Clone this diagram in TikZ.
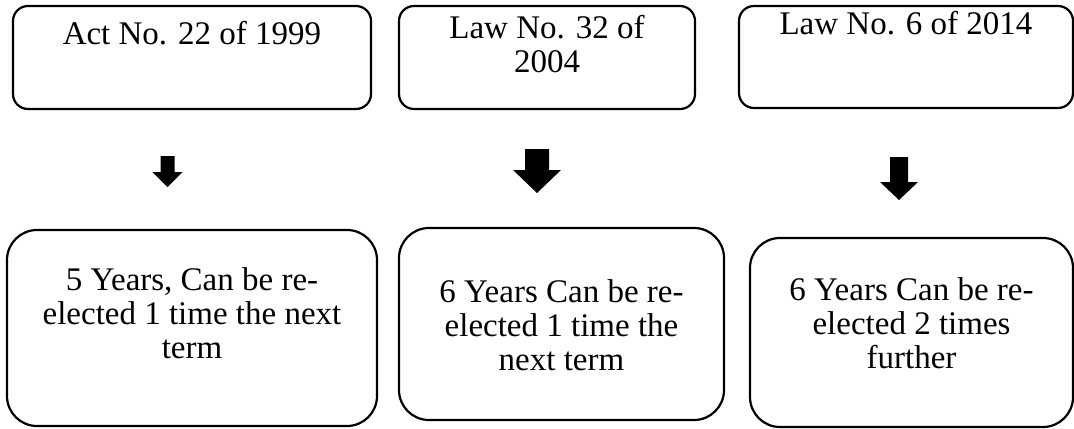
\documentclass[tikz,border=0pt]{standalone}
\usepackage{fontspec}
\setmainfont{Liberation Serif}
\usetikzlibrary{positioning}

\begin{document}
\begin{tikzpicture}[x=0.5pt, y=-0.5pt]
  \tikzstyle{every node}=[font=\fontsize{16.5}{17}\selectfont]
  \tikzstyle{topbox}=[draw, line width=1.1pt, rounded corners=7.5pt, inner sep=0pt]
  \tikzstyle{botbox}=[draw, line width=1.1pt, rounded corners=15pt, inner sep=0pt]
  \tikzstyle{txt}=[align=center, inner sep=0pt]
  \tikzstyle{blk}=[fill=black]
  \useasboundingbox (0,0) rectangle (1074,428);

  % the three laws
  \node[topbox, minimum width=179pt, minimum height=51.5pt] (act99) at (192, 57.5) {};
    \node[txt, below=8pt of act99.north] (act99t) {Act No. 22 of 1999};
  \node[topbox, minimum width=148pt, minimum height=51.5pt] (law04) at (547, 57.5) {};
    \node[txt, below=5pt of law04.north] (law04t) {Law No. 32 of\\2004};
  \node[topbox, minimum width=167pt, minimum height=51pt] (law14) at (906, 57) {};
    \node[txt, below=3pt of law14.north] (law14t) {Law No. 6 of 2014};

  % block arrows
  \fill[blk] (160.5,156) -- (174.5,156) -- (174.5,172) -- (182.5,172)
    -- (167.5,187) -- (152.5,172) -- (160.5,172) -- cycle;
  \fill[blk] (525,149) -- (549,149) -- (549,170) -- (561,170)
    -- (537,193) -- (513,170) -- (525,170) -- cycle;
  \fill[blk] (890,157) -- (908,157) -- (908,182) -- (918,182)
    -- (899,200) -- (880,182) -- (890,182) -- cycle;

  % terms of office
  \node[botbox, minimum width=185pt, minimum height=98pt] (term99) at (192, 328) {};
    \node[txt, below=19pt of term99.north] (term99t)
      {5 Years, Can be re-\\elected 1 time the next\\term};
  \node[botbox, minimum width=162.5pt, minimum height=96pt] (term04) at (561.5, 324) {};
    \node[txt, below=26pt of term04.north] (term04t)
      {6 Years Can be re-\\elected 1 time the\\next term};
  \node[botbox, minimum width=161.5pt, minimum height=94.5pt] (term14) at (911.5, 332.5) {};
    \node[txt, below=20pt of term14.north] (term14t)
      {6 Years Can be re-\\elected 2 times\\further};

\end{tikzpicture}
\end{document}
